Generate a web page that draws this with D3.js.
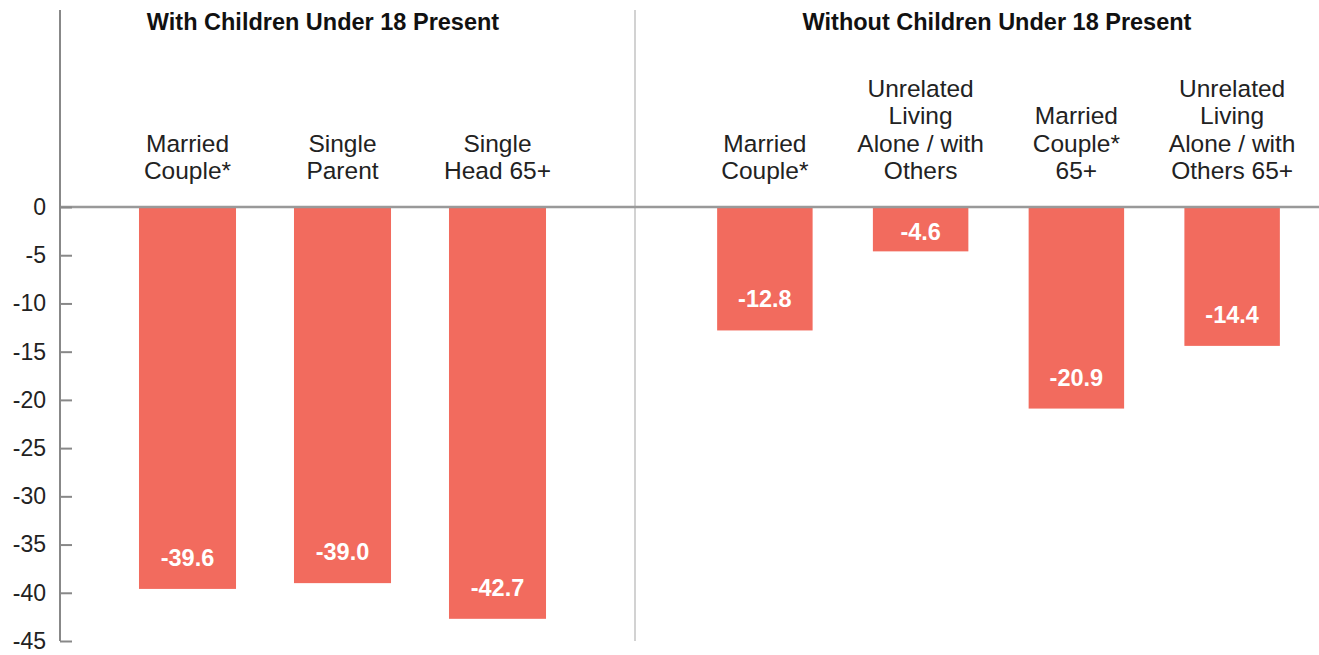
<!DOCTYPE html>
<html>
<head>
<meta charset="utf-8">
<script src="https://cdn.jsdelivr.net/npm/d3@7"></script>
<style>
  html, body { margin: 0; padding: 0; background: #fff; }
  svg { display: block; }
  text { font-family: "Liberation Sans", Arial, sans-serif; }
</style>
</head>
<body>
<svg id="chart" width="1319" height="655"></svg>
<script>
// ---- data ----
const groupTitles = ["With Children Under 18 Present", "Without Children Under 18 Present"];
const categoriesWith = ["Married Couple*", "Single Parent", "Single Head 65+"];
const labelsWith = [["Married", "Couple*"], ["Single", "Parent"], ["Single", "Head 65+"]];
const valuesWith = [-39.6, -39.0, -42.7];
const categoriesWithout = ["Married Couple*", "Unrelated Living Alone / with Others", "Married Couple* 65+", "Unrelated Living Alone / with Others 65+"];
const labelsWithout = [["Married", "Couple*"], ["Unrelated", "Living", "Alone / with", "Others"], ["Married", "Couple*", "65+"], ["Unrelated", "Living", "Alone / with", "Others 65+"]];
const valuesWithout = [-12.8, -4.6, -20.9, -14.4];
const yTicks = [0, -5, -10, -15, -20, -25, -30, -35, -40, -45];

// ---- layout ----
const svg = d3.select("#chart");
const barColor = "#f26b5e";
const axisX = 60, dividerX = 635, topY = 10;

const y = d3.scaleLinear().domain([0, -45]).range([207, 641]);

const panels = [
  { cats: categoriesWith, labels: labelsWith, values: valuesWith, range: [110, 575], pad: 0.374, title: groupTitles[0], titleX: 323 },
  { cats: categoriesWithout, labels: labelsWithout, values: valuesWithout, range: [687, 1310], pad: 0.387, title: groupTitles[1], titleX: 997 }
];

// divider
svg.append("line").attr("x1", dividerX).attr("x2", dividerX).attr("y1", topY).attr("y2", y(-45))
  .attr("stroke", "#d2d2d2").attr("stroke-width", 2);

panels.forEach(p => {
  const x = d3.scaleBand().domain(p.cats).range(p.range).paddingInner(p.pad).paddingOuter(p.pad / 2);
  const data = p.cats.map((c, i) => ({ c, v: p.values[i], lines: p.labels[i] }));

  svg.append("text").attr("x", p.titleX).attr("y", 30).attr("text-anchor", "middle")
    .attr("font-size", 23.5).attr("font-weight", "bold").attr("fill", "#111").text(p.title);

  const g = svg.append("g");
  g.selectAll("rect").data(data).join("rect")
    .attr("x", d => x(d.c)).attr("width", x.bandwidth())
    .attr("y", y(0)).attr("height", d => y(d.v) - y(0))
    .attr("fill", barColor);

  // category labels (bottom aligned)
  data.forEach(d => {
    const t = g.append("text").attr("text-anchor", "middle").attr("font-size", 24.5).attr("fill", "#222");
    const n = d.lines.length;
    d.lines.forEach((ln, i) => {
      t.append("tspan").attr("x", x(d.c) + x.bandwidth() / 2)
        .attr("y", 179 - (n - 1 - i) * 27.5).text(ln);
    });
  });

  // value labels
  g.selectAll("text.val").data(data).join("text").attr("class", "val")
    .attr("x", d => x(d.c) + x.bandwidth() / 2)
    .attr("y", d => {
      const bottom = y(d.v), mid = (y(0) + y(d.v)) / 2;
      return Math.max(mid + 3, bottom - 31) + 8;
    })
    .attr("text-anchor", "middle").attr("font-size", 23.5).attr("font-weight", "bold")
    .attr("fill", "#fff").text(d => d.v.toFixed(1));
});

// zero line
svg.append("line").attr("x1", axisX).attr("x2", 1319).attr("y1", y(0)).attr("y2", y(0))
  .attr("stroke", "#999").attr("stroke-width", 2.5);

// y axis
const yAxis = d3.axisLeft(y).tickValues(yTicks).tickSizeInner(-12).tickSizeOuter(0).tickPadding(14)
  .tickFormat(d => String(d));
const ga = svg.append("g").attr("transform", `translate(${axisX},0)`).call(yAxis);
ga.select(".domain").remove();
ga.selectAll(".tick line").attr("stroke", "#888").attr("stroke-width", 2);
ga.selectAll(".tick text").attr("font-size", 23).attr("fill", "#222")
  .attr("font-family", "'Liberation Sans', Arial, sans-serif");
svg.append("line").attr("x1", axisX).attr("x2", axisX).attr("y1", topY).attr("y2", y(-45))
  .attr("stroke", "#888").attr("stroke-width", 2);
</script>
</body>
</html>
